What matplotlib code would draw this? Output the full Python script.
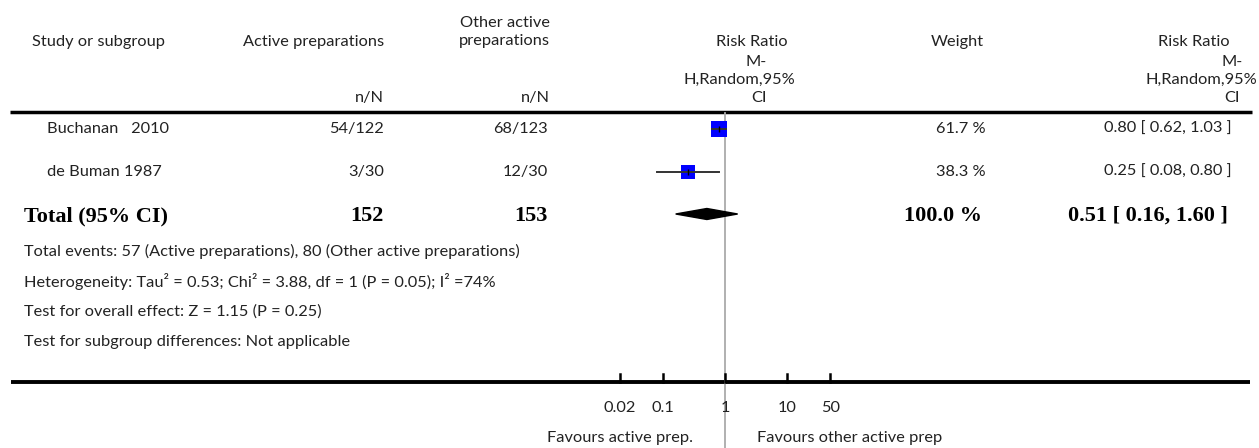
import matplotlib
matplotlib.use('Agg')
import matplotlib.pyplot as plt
import numpy as np

# study rows
studies = ['Buchanan   2010', 'de Buman 1987']
active_nN = ['54/122', '3/30']
other_nN = ['68/123', '12/30']
rr = [0.80, 0.25]
rr_lo = [0.62, 0.08]
rr_hi = [1.03, 0.80]
weight = [61.7, 38.3]

# pooled result
tot_active = 152
tot_other = 153
tot_rr = 0.51
tot_lo = 0.16
tot_hi = 1.60
tot_weight = 100.0

ticks = [0.02, 0.1, 1, 10, 50]
tick_labels = ['0.02', '0.1', '1', '10', '50']

notes = ['Total events: 57 (Active preparations), 80 (Other active preparations)',
         'Heterogeneity: Tau\u00b2 = 0.53; Chi\u00b2 = 3.88, df = 1 (P = 0.05); I\u00b2 =74%',
         'Test for overall effect: Z = 1.15 (P = 0.25)',
         'Test for subgroup differences: Not applicable']

W, H = 1259, 448
fig = plt.figure(figsize=(W / 100, H / 100), dpi=100)
plt.rcParams['font.family'] = ['Lato', 'DejaVu Sans']
fs = 11.8
bfs = 16
serif = 'Liberation Serif'

# text layer in pixel coords
ax = fig.add_axes([0, 0, 1, 1])
ax.set_xlim(0, W)
ax.set_ylim(H, 0)
ax.axis('off')

# forest layer: log scale, RR=1 at x=725, 62 px per decade
fx = fig.add_axes([601 / W, 0, 248 / W, 1])
fx.set_xscale('log')
fx.set_xlim(0.01, 100)
fx.set_ylim(H, 0)
fx.axis('off')
fx.patch.set_visible(False)

txt = '#222222'

# headers
ax.text(32, 42, 'Study or subgroup', fontsize=fs, va='center', color=txt)
ax.text(384, 42, 'Active preparations', fontsize=fs, va='center', ha='right', color=txt)
ax.text(550, 23, 'Other active', fontsize=fs, va='center', ha='right', color=txt)
ax.text(550, 41, 'preparations', fontsize=fs, va='center', ha='right', color=txt)
ax.text(384, 98, 'n/N', fontsize=fs, va='center', ha='right', color=txt)
ax.text(550, 98, 'n/N', fontsize=fs, va='center', ha='right', color=txt)
for s, xr, y in zip(['Risk Ratio', 'M-', 'H,Random,95%', 'CI'], [788, 767, 795, 767], [42, 62, 80, 98]):
    ax.text(xr, y, s, fontsize=fs, va='center', ha='right', color=txt)
ax.text(984, 42, 'Weight', fontsize=fs, va='center', ha='right', color=txt)
for s, xr, y in zip(['Risk Ratio', 'M-', 'H,Random,95%', 'CI'], [1230, 1243, 1257, 1240], [42, 62, 80, 98]):
    ax.text(xr, y, s, fontsize=fs, va='center', ha='right', color=txt)

ax.plot([10, 1252], [112, 112], color='black', lw=2.5, solid_capstyle='butt')

# reference line
fx.plot([1, 1], [113, H], color='#aaaaaa', lw=1.3, clip_on=False, zorder=1)

rows_y = [129, 172]
for i, y in enumerate(rows_y):
    ax.text(47, y, studies[i], fontsize=fs, va='center', color=txt)
    ax.text(384, y, active_nN[i], fontsize=fs, va='center', ha='right', color=txt)
    ax.text(548, y, other_nN[i], fontsize=fs, va='center', ha='right', color=txt)
    ax.text(986, y, f'{weight[i]:.1f} %', fontsize=fs, va='center', ha='right', color=txt)
    ax.text(1232, y, f'{rr[i]:.2f} [ {rr_lo[i]:.2f}, {rr_hi[i]:.2f} ]', fontsize=fs,
            va='center', ha='right', color=txt)
    fx.plot(rr[i], y, marker='s', markersize=1.55 * np.sqrt(weight[i]), color='#0000ff',
            markeredgewidth=0, zorder=2, clip_on=False)
    fx.plot([rr_lo[i], rr_hi[i]], [y, y], color='#333333', lw=1.4, zorder=3, clip_on=False)
    fx.plot(rr[i], y, marker='|', markersize=5, color='black', markeredgewidth=1,
            zorder=4, clip_on=False)

# total row
ty = 216
ax.text(24, ty, 'Total (95% CI)', fontsize=bfs, fontweight='bold', family=serif, va='center')
ax.text(384, ty, str(tot_active), fontsize=bfs, fontweight='bold', family=serif, va='center', ha='right')
ax.text(548, ty, str(tot_other), fontsize=bfs, fontweight='bold', family=serif, va='center', ha='right')
ax.text(982, ty, f'{tot_weight:.1f} %', fontsize=bfs, fontweight='bold', family=serif,
        va='center', ha='right')
ax.text(1228, ty, f'{tot_rr:.2f} [ {tot_lo:.2f}, {tot_hi:.2f} ]', fontsize=bfs, fontweight='bold',
        family=serif, va='center', ha='right')
dy = 5.5
fx.fill([tot_lo, tot_rr, tot_hi, tot_rr], [ty - 2, ty - 2 - dy, ty - 2, ty - 2 + dy],
        color='black', zorder=3, clip_on=False)

for s, y in zip(notes, [251, 281, 312, 342]):
    ax.text(24, y, s, fontsize=fs, va='center', color=txt)

# bottom axis
ax.plot([11, 1250], [382, 382], color='black', lw=2.8, solid_capstyle='butt')
for t, lab in zip(ticks, tick_labels):
    fx.plot([t, t], [374, 382], color='black', lw=1.8, clip_on=False)
    fx.text(t, 408, lab, fontsize=fs, ha='center', va='center', color=txt)
ax.text(693, 438, 'Favours active prep.', fontsize=fs, ha='right', va='center', color=txt)
ax.text(757, 438, 'Favours other active prep', fontsize=fs, ha='left', va='center', color=txt)

fig.savefig('out.png', dpi=100)
